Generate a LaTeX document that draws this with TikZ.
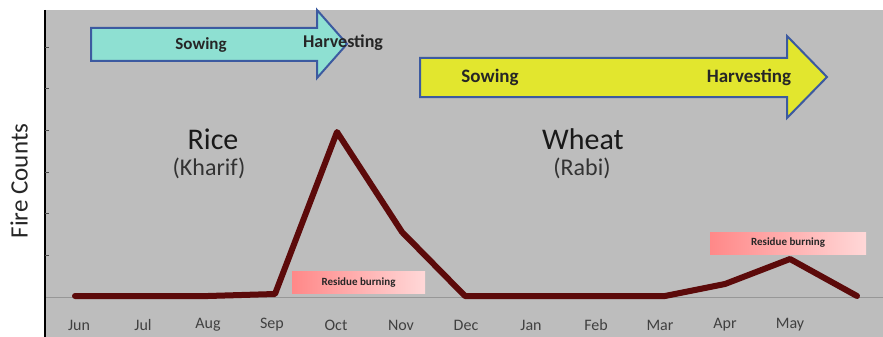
\documentclass[tikz,border=0pt]{standalone}
\usepackage{fontspec}
\setmainfont{Carlito}
\definecolor{plotgray}{HTML}{BDBDBD}
\definecolor{ricecyan}{HTML}{8EE0D2}
\definecolor{wheatyellow}{HTML}{E2E62E}
\definecolor{arrowblue}{HTML}{3C5AA0}
\definecolor{firered}{HTML}{5C0A0A}
\definecolor{burnleft}{HTML}{FF8888}
\definecolor{burnright}{HTML}{FFD8D8}
\tikzset{
  month/.style={text=black!75, font=\fontsize{16}{18}\selectfont},
  croparrow/.style={draw=arrowblue, line width=2pt, line join=miter},
  stage/.style={font=\bfseries\fontsize{#1}{#1}\selectfont, text=black!85},
  burnbox/.style={left color=burnleft, right color=burnright, draw=none,
    minimum height=22pt, inner sep=0pt, text=black!85,
    font=\bfseries\fontsize{11}{12}\selectfont}
}
\begin{document}
\begin{tikzpicture}[x=1pt, y=-1pt]
\useasboundingbox (0,0) rectangle (883,337);
\fill[plotgray] (45,10) rectangle (883,337);
\draw[plotgray!80!black, line width=0.6pt] (45,297) -- (883,297);
\draw[black, line width=1.6pt] (45,10) -- (45,337);
\foreach \t in {47,88,130,172,213,255} \draw[black!70, line width=0.6pt] (45,\t) -- (49,\t);
\node[rotate=90, font=\fontsize{25}{28}\selectfont, text=black!85] (ylabel) at (19,181) {Fire Counts};

% crop arrows
\draw[croparrow, fill=ricecyan] (91,28) -- (317,28) -- (317,10) -- (347,44) -- (317,78) -- (317,61) -- (91,61) -- cycle;
\node[stage=17] (ricesow) at (201,45) {Sowing};
\node[stage=18] (riceharv) at (343,43) {Harvesting};
\draw[croparrow, fill=wheatyellow] (420,58) -- (787,58) -- (787,36) -- (827,77) -- (787,118) -- (787,97) -- (420,97) -- cycle;
\node[stage=19] (wheatsow) at (490,77) {Sowing};
\node[stage=19] (wheatharv) at (749,77) {Harvesting};

% crops
\node[font=\fontsize{30}{32}\selectfont, text=black!90] (rice) at (213,139) {Rice};
\node[font=\fontsize{24}{26}\selectfont, text=black!80] (kharif) at (209,168) {(Kharif)};
\node[font=\fontsize{30}{32}\selectfont, text=black!90] (wheat) at (583,139) {Wheat};
\node[font=\fontsize{24}{26}\selectfont, text=black!80] (rabi) at (582,168) {(Rabi)};

% fire counts
\coordinate (jun) at (75,296);
\coordinate (jul) at (143,296);
\coordinate (aug) at (208,296);
\coordinate (sep) at (275,294);
\coordinate (oct) at (337,132);
\coordinate (nov) at (402,232);
\coordinate (dec) at (465,296);
\coordinate (jan) at (531,296);
\coordinate (feb) at (596,296);
\coordinate (mar) at (665,296);
\coordinate (apr) at (725,284);
\coordinate (may) at (790,259);
\coordinate (jun2) at (857,296);
\node[burnbox, minimum width=133pt] (burnrice) at (358.5,282.5) {Residue burning};
\node[burnbox, minimum width=156pt] (burnwheat) at (788,243) {Residue burning};
\draw[firered, line width=6pt, line cap=round, line join=round]
  (jun) -- (jul) -- (aug) -- (sep) -- (oct) -- (nov) -- (dec) -- (jan) -- (feb) -- (mar) -- (apr) -- (may) -- (jun2);

% months
\foreach \m/\x in {Jun/79,Jul/143,Aug/208,Sep/272,Oct/336,Nov/401,Dec/466,Jan/531,Feb/596,Mar/660,Apr/725,May/790}
  \node[month] (lbl\m) at (\x,325) {\m};
\end{tikzpicture}
\end{document}
